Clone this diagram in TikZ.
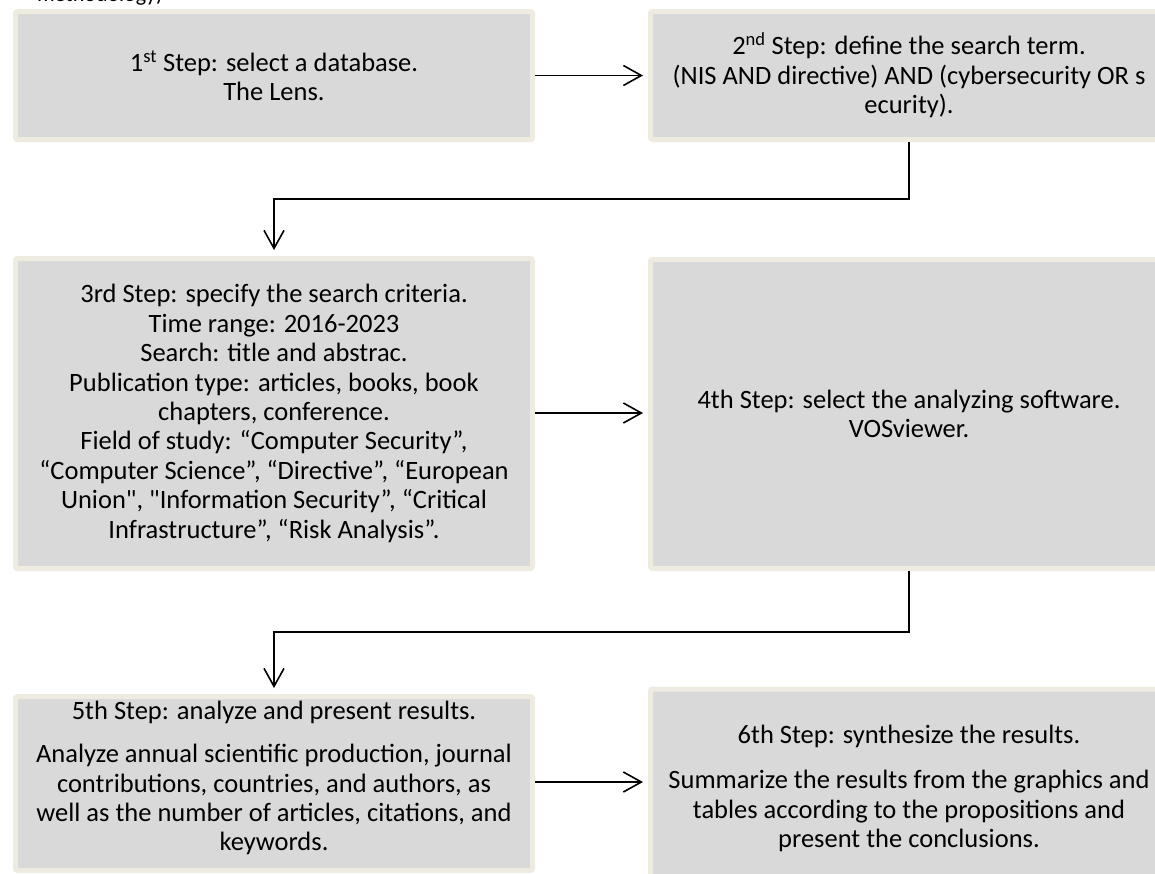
\documentclass[tikz,border=0pt]{standalone}
\usepackage{fontspec}
\setmainfont{Carlito}
\newfontfamily\straightfont{Carlito}[Ligatures=TeXOff]
\usetikzlibrary{arrows.meta,calc}
\definecolor{boxgray}{HTML}{D9D9D9}
\definecolor{boxbeige}{HTML}{EEECE1}
\newcommand{\sq}{{\straightfont"}}
\tikzset{
  stepbox/.style={fill=boxgray, draw=boxbeige, line width=5pt, rounded corners=2pt,
    minimum width=517pt, align=center, inner sep=0pt,
    font=\fontsize{26.5}{29.4}\selectfont},
  conn/.style={draw=black, line width=1.6pt,
    -{Straight Barb[length=18pt,width=20pt,line width=1.6pt]}},
}
\begin{document}
\begin{tikzpicture}[x=1pt,y=-1pt]
\useasboundingbox (0,0) rectangle (1155,873);
\fill[white] (0,0) rectangle (1155,873);
\begin{scope}
  \clip (0,0) rectangle (1155,873);
  \node[anchor=base east, inner sep=0pt, font=\fontsize{22}{26}\selectfont] (frag) at (163,1) {methodology)};
  \node[stepbox, minimum height=128pt] (b1) at (274,75.5)
    {1\textsuperscript{st} Step: select a database.\\The Lens.};
  \node[stepbox, minimum height=128pt] (b2) at (909,75.5)
    {2\textsuperscript{nd} Step: define the search term.\\(NIS AND directive) AND (cybersecurity OR s\\ecurity).};
  \node[stepbox, minimum height=310pt] (b3) at (274,413.5)
    {3rd Step: specify the search criteria.\\Time range: 2016-2023\\Search: title and abstrac.\\Publication type: articles, books, book\\chapters, conference.\\Field of study: “Computer Security”,\\“Computer Science”, “Directive”, “European\\Union\sq, \sq Information Security”, “Critical\\Infrastructure”, “Risk Analysis”.};
  \node[stepbox, minimum height=309pt] (b4) at (909,414)
    {4th Step: select the analyzing software.\\VOSviewer.};
  \node[stepbox, minimum height=174pt] (b5) at (274,783.5)
    {5th Step: analyze and present results.\\[14pt]Analyze annual scientific production, journal\\contributions, countries, and authors, as\\well as the number of articles, citations, and\\keywords.\\[-14pt]\mbox{}};
  \node[stepbox, minimum height=199pt] (b6) at (909,788.5)
    {6th Step: synthesize the results.\\[16pt]Summarize the results from the graphics and\\tables according to the propositions and\\present the conclusions.};
  \draw[conn] (b1.east) -- ([xshift=-5pt]b2.west);
  \draw[conn] (b2.south) -- ++(0,57) -| ([yshift=6pt]b3.north);
  \coordinate (a34) at ([yshift=0.5pt]b3.east);
  \coordinate (e34) at ([xshift=-5pt]b4.west);
  \draw[conn] (a34) -- (a34 -| e34);
  \draw[conn] (b4.south) -- ++(0,61) -| ([yshift=6pt]b5.north);
  \coordinate (a56) at ([yshift=1.5pt]b5.east);
  \coordinate (e56) at ([xshift=-5pt]b6.west);
  \draw[conn] (a56) -- (a56 -| e56);
\end{scope}
\end{tikzpicture}
\end{document}
